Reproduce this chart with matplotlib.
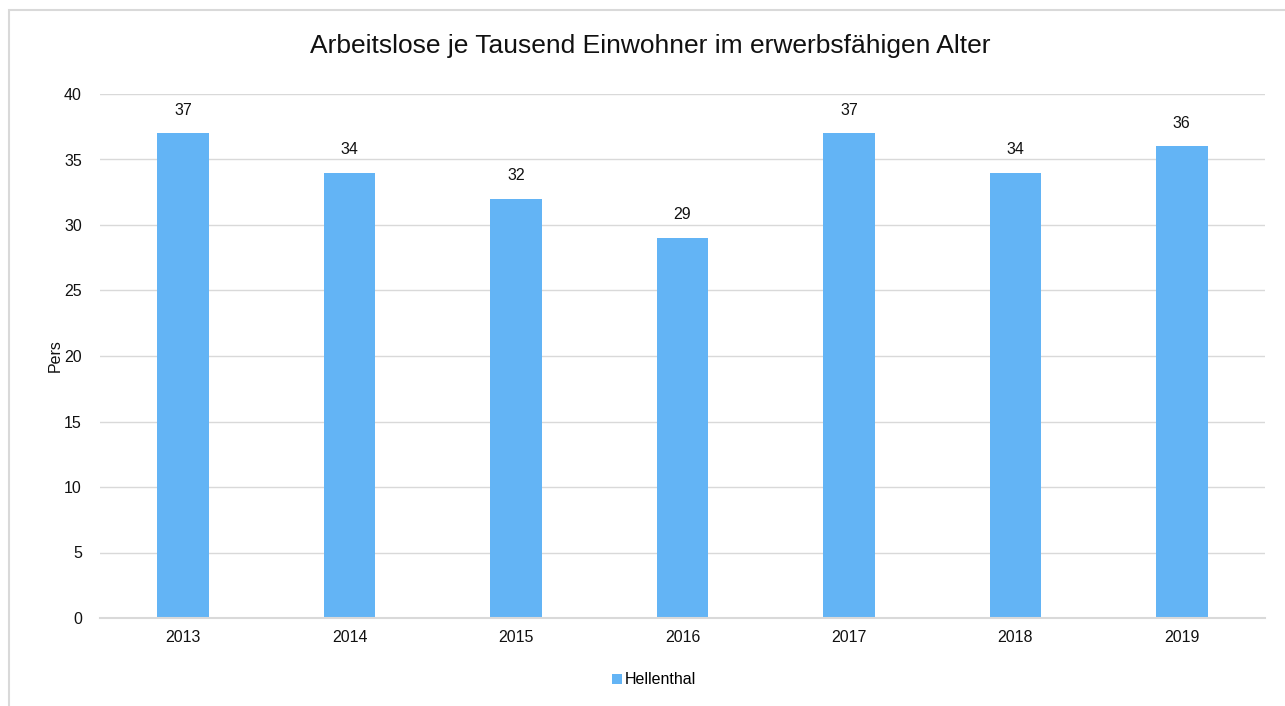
import matplotlib
matplotlib.use('Agg')
import matplotlib.pyplot as plt
from matplotlib.patches import Rectangle

years = ['2013', '2014', '2015', '2016', '2017', '2018', '2019']
hellenthal = [37, 34, 32, 29, 37, 34, 36]

plt.rcParams['font.family'] = ['Liberation Sans', 'DejaVu Sans']

W, H = 1285, 706
TXT = '#111111'
fig = plt.figure(figsize=(W / 100, H / 100), dpi=100)

# outer chart frame, cut off at right and bottom
fig.patches.append(Rectangle((9 / W, -0.1), 1.2, 1 - 10 / H + 0.1,
                             transform=fig.transFigure, fill=False,
                             edgecolor='#D9D9D9', linewidth=1.5))

ax = fig.add_axes([100 / W, 1 - 618 / H, 1165 / W, 524 / H])
x = range(len(years))
bars = ax.bar(x, hellenthal, width=0.31, color='#63B4F5', label='Hellenthal', zorder=3)
for b, v in zip(bars, hellenthal):
    ax.text(b.get_x() + b.get_width() / 2, v + 1.2, str(v),
            ha='center', va='bottom', fontsize=11.5, color=TXT)

ax.set_xlim(-0.5, len(years) - 0.5)
ax.set_ylim(0, 40)
ax.set_yticks(range(0, 41, 5))
ax.set_xticks(list(x))
ax.set_xticklabels(years)
ax.tick_params(length=0, labelsize=11.5, labelcolor=TXT)
ax.tick_params(axis='y', pad=13)
ax.tick_params(axis='x', pad=9)
ax.grid(axis='y', color='#D9D9D9', linewidth=1.0, zorder=0)
# baseline sits on the axes edge, keep it unclipped
ax.axhline(0, color='#D9D9D9', linewidth=1.5, zorder=4, clip_on=False)
for s in ax.spines.values():
    s.set_visible(False)
ax.set_ylabel('Pers', fontsize=11.5, color=TXT, labelpad=1)

fig.text(0.506, 1 - 46 / H, 'Arbeitslose je Tausend Einwohner im erwerbsfähigen Alter',
         ha='center', va='center', fontsize=19, color=TXT)

fig.legend(loc='center', bbox_to_anchor=(0.509, 1 - 680 / H), frameon=False,
           fontsize=11.5, handlelength=0.65, handleheight=0.65, handletextpad=0.2)

fig.savefig('out.png', dpi=100, facecolor='white')
